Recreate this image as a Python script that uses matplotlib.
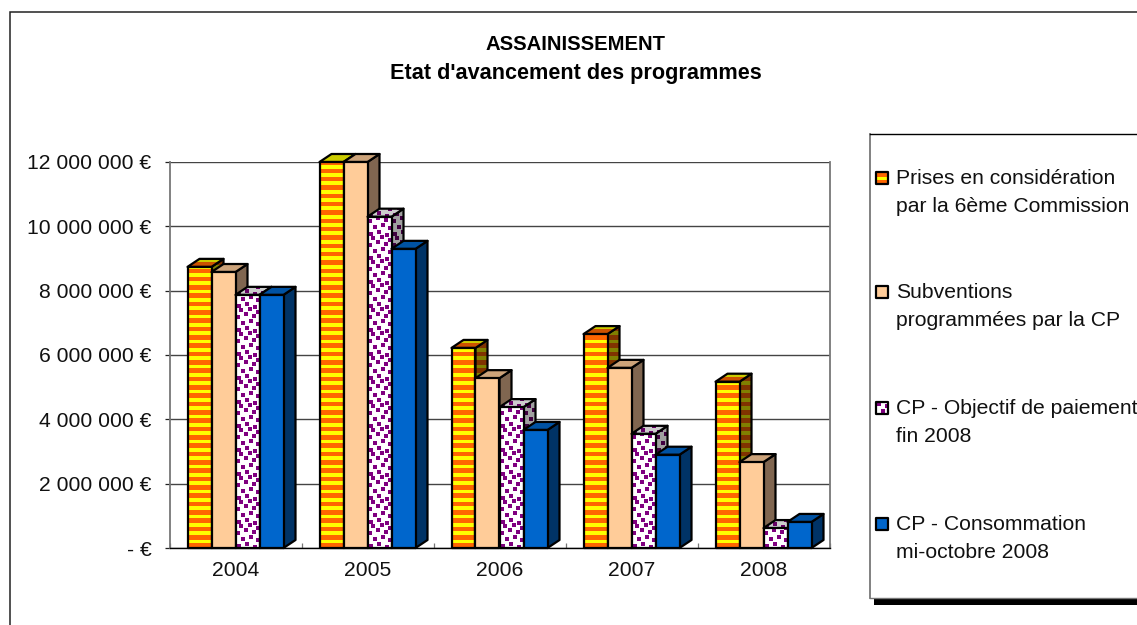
import matplotlib
matplotlib.use("Agg")
import matplotlib.pyplot as plt
from matplotlib.patches import Polygon, Rectangle
from matplotlib.ticker import FuncFormatter

plt.rcParams['font.family'] = ['Liberation Sans', 'DejaVu Sans']

years = ['2004', '2005', '2006', '2007', '2008']
prises = [8740000, 12000000, 6220000, 6650000, 5170000]
subventions = [8580000, 12000000, 5280000, 5600000, 2670000]
objectif = [7870000, 10300000, 4380000, 3550000, 620000]
consommation = [7870000, 9300000, 3670000, 2900000, 810000]
series_values = [prises, subventions, objectif, consommation]
legend_labels = [
    'Prises en considération\npar la 6ème Commission',
    'Subventions\nprogrammées par la CP',
    'CP - Objectif de paiement\nfin 2008',
    'CP - Consommation\nmi-octobre 2008',
]
title_lines = ['ASSAINISSEMENT', "Etat d'avancement des programmes"]

# front, side and top colours: (base, accent) for each series
STYLES = [
    dict(kind='stripes', front=('#FFFF00', '#FF6600'), side=('#808000', '#803300'), top=('#CCCC00', '#CC5200')),
    dict(kind='plain', front=('#FFCC99', None), side=('#806650', None), top=('#CCA37A', None)),
    dict(kind='dots', front=('#FFFFFF', '#7F007F'), side=('#A0A0A0', '#400040'), top=('#CCCCCC', '#660066')),
    dict(kind='plain', front=('#0066CC', None), side=('#003366', None), top=('#0052A3', None)),
]
W, H = 1137, 625
AX_L, AX_R, AX_T, AX_B = 169.5, 829.5, 162.0, 548.0
BAR_PX, DEPTH_X, DEPTH_Y = 24.0, 12.0, 8.0
STRIPE_PERIOD = 8.33
DOT_TILE_SIZE = 24
DOT_TILE = [(3, 2), (11, 4), (19, 1), (7, 9), (15, 11), (22, 8), (2, 15), (10, 18), (18, 16), (5, 22), (14, 23), (22, 20)]
FS = 15.2

fig = plt.figure(figsize=(W / 100, H / 100), dpi=100, facecolor='white')
ax = fig.add_axes([AX_L / W, 1 - AX_B / H, (AX_R - AX_L) / W, (AX_B - AX_T) / H])
ax.set_xlim(0, len(years))
ax.set_ylim(0, 12000000)
per_px_x = len(years) / (AX_R - AX_L)
per_px_y = 12000000 / (AX_B - AX_T)


def draw_face(target, pts, colours, kind, sx, sy, lw=1.6, dot_size=5.2):
    """Fill a polygon, add its pattern, and stroke the outline. sx, sy: data units per pixel."""
    base, accent = colours
    poly = Polygon(pts, closed=True, facecolor=base, edgecolor='none', clip_on=False, zorder=3)
    target.add_patch(poly)
    xs = [p[0] for p in pts]
    ys = [p[1] for p in pts]
    x0, x1, y0, y1 = min(xs), max(xs), min(ys), max(ys)
    if kind == 'stripes':
        n = int((y1 - y0) / abs(sy) / STRIPE_PERIOD) + 2
        for i in range(n):
            r = Rectangle((x0, y0 + i * STRIPE_PERIOD * abs(sy)), x1 - x0, 4.6 * abs(sy),
                          facecolor=accent, edgecolor='none', zorder=3)
            target.add_patch(r)
            r.set_clip_path(poly)
    elif kind == 'dots':
        nx = int((x1 - x0) / abs(sx) / DOT_TILE_SIZE) + 1
        ny = int((y1 - y0) / abs(sy) / DOT_TILE_SIZE) + 1
        dx, dy = [], []
        for a in range(nx):
            for b in range(ny):
                for ox, oy in DOT_TILE:
                    dx.append(x0 + (a * DOT_TILE_SIZE + ox) * abs(sx))
                    dy.append(y0 + (b * DOT_TILE_SIZE + oy) * abs(sy))
        sc = target.scatter(dx, dy, s=dot_size, marker='s', color=accent, linewidths=0, zorder=3)
        sc.set_clip_path(poly)
    target.add_patch(Polygon(pts, closed=True, fill=False, edgecolor='black', linewidth=lw,
                             joinstyle='round', clip_on=False, zorder=3))


# category axis slots: each slot is one unit wide, four bars centred in it
bar_w = BAR_PX * per_px_x
dx = DEPTH_X * per_px_x
dy = DEPTH_Y * per_px_y
for g in range(len(years)):
    left = g + 0.5 - 2 * bar_w
    for s, values in enumerate(series_values):
        v = values[g]
        st = STYLES[s]
        xl = left + s * bar_w
        xr = xl + bar_w
        draw_face(ax, [(xr, 0), (xr + dx, dy), (xr + dx, v + dy), (xr, v)], st['side'], st['kind'], per_px_x, per_px_y)
        draw_face(ax, [(xl, v), (xr, v), (xr + dx, v + dy), (xl + dx, v + dy)], st['top'], st['kind'], per_px_x, per_px_y)
        draw_face(ax, [(xl, 0), (xr, 0), (xr, v), (xl, v)], st['front'], st['kind'], per_px_x, per_px_y)


def euro(v, _):
    if v == 0:
        return '- €'
    return f'{int(v):,} €'.replace(',', ' ')


ax.set_yticks(range(0, 12000001, 2000000))
ax.yaxis.set_major_formatter(FuncFormatter(euro))
ax.set_xticks([g + 0.5 for g in range(len(years))])
ax.set_xticklabels(years)
ax.set_xticks(range(len(years) + 1), minor=True)
ax.tick_params(axis='y', length=3.6, width=0.9, pad=9.4, labelsize=FS, color='#222222', labelcolor='#111111')
ax.tick_params(axis='x', which='major', length=0, pad=9, labelsize=FS, labelcolor='#111111')
ax.tick_params(axis='x', which='minor', direction='in', length=3.6, width=0.9, color='#777777')
ax.grid(axis='y', color='#444444', linewidth=1.0, zorder=1)
ax.set_axisbelow(True)
ax.spines['top'].set_visible(False)
for side in ('left', 'right'):
    ax.spines[side].set_color('#777777')
    ax.spines[side].set_linewidth(1.3)
ax.spines['bottom'].set_color('black')
ax.spines['bottom'].set_linewidth(1.0)

# pixel-addressed overlay for the frame, the title and the legend
ov = fig.add_axes([0, 0, 1, 1], facecolor='none')
ov.set_xlim(0, W)
ov.set_ylim(H, 0)
ov.axis('off')
ov.plot([10, 10, W], [H, 12, 12], color='#222222', linewidth=1.1, solid_joinstyle='miter')
for line, y, size in zip(title_lines, (45, 74), (14.6, 15.6)):
    ov.text(576, y, line, ha='center', va='center', fontsize=size, fontweight='bold', color='black')

ov.add_patch(Rectangle((874, 598), W - 874, 7, facecolor='black', edgecolor='none'))
ov.plot([870, 870], [134, 598], color='#777777', linewidth=1.3)
ov.plot([870, W], [134, 134], color='black', linewidth=1.0)
ov.plot([870, W], [598, 598], color='#777777', linewidth=1.0)
for st, label, y in zip(STYLES, legend_labels, (178, 292, 408, 524)):
    x0, y0 = 875.5, y - 6
    pts = [(x0, y0), (x0 + 12, y0), (x0 + 12, y0 + 12), (x0, y0 + 12)]
    draw_face(ov, pts, st['front'], st['kind'], 1, 1, lw=1.6, dot_size=5)
    first, second = label.split('\n')
    ov.text(896, y, first, ha='left', va='center', fontsize=FS, color='#111111')
    ov.text(896, y + 28, second, ha='left', va='center', fontsize=FS, color='#111111')

fig.savefig('out.png', dpi=100, facecolor='white')
